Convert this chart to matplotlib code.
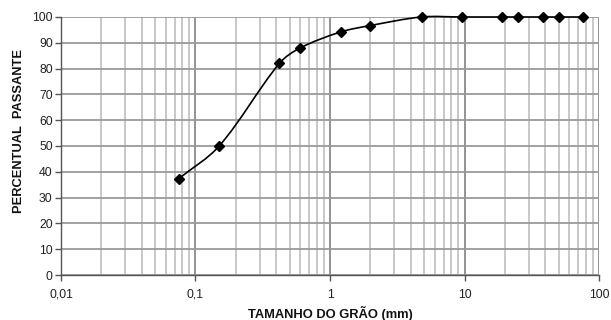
import numpy as np
import matplotlib
matplotlib.use('Agg')
import matplotlib.pyplot as plt
from matplotlib.path import Path
from matplotlib.patches import PathPatch
from matplotlib.ticker import FixedLocator, LogLocator, NullFormatter

plt.rcParams['font.family'] = ['Liberation Sans', 'DejaVu Sans']

# sieve openings (mm) and percent passing
sizes = [0.075, 0.15, 0.42, 0.6, 1.2, 2.0, 4.8, 9.5, 19, 25, 38, 50, 76]
passing = [37.3, 50.0, 82.0, 88.0, 94.2, 96.7, 100, 100, 100, 100, 100, 100, 100]

x_ticks = [0.01, 0.1, 1, 10, 100]
x_labels = ['0,01', '0,1', '1', '10', '100']
y_ticks = list(range(0, 101, 10))

fig = plt.figure(figsize=(6.11, 3.2), dpi=100)
ax = fig.add_axes([0.0998, 0.1406, 0.8806, 0.8063])
ax.set_xscale('log')
ax.set_xlim(0.01, 100)
ax.set_ylim(0, 100)

# grid
ax.xaxis.set_major_locator(FixedLocator(x_ticks))
ax.xaxis.set_minor_locator(LogLocator(base=10, subs=np.arange(2, 10)))
ax.xaxis.set_minor_formatter(NullFormatter())
ax.set_xticks(x_ticks)
ax.set_xticklabels(x_labels)
ax.set_yticks(y_ticks)
ax.grid(True, which='major', axis='x', color='#8a8a8a', lw=1.3)
ax.grid(True, which='minor', axis='x', color='#c4c4c4', lw=1.3)
ax.grid(True, which='major', axis='y', color='#9a9a9a', lw=1.3)
ax.set_axisbelow(True)

for s in ['top', 'right']:
    ax.spines[s].set_visible(False)
for s in ['left', 'bottom']:
    ax.spines[s].set_color('#555555')
    ax.spines[s].set_linewidth(1.0)

ax.tick_params(axis='both', which='major', direction='out', length=4,
               width=1, color='#555555', labelsize=8.8, pad=2,
               labelcolor='#222222')
ax.tick_params(axis='x', which='major', pad=6)
ax.tick_params(axis='x', which='minor', length=0)

# smoothed curve through the points (bezier in screen-like space, log x)
px_dec = 134.5   # approx pixels per decade
px_unit = 2.58   # approx pixels per percent
P = np.column_stack([np.log10(sizes) * px_dec, np.array(passing) * px_unit])
n = len(P)
tang = []
for i in range(n):
    d = P[min(i + 1, n - 1)] - P[max(i - 1, 0)]
    tang.append(d / np.hypot(*d))
verts = [P[0]]
codes = [Path.MOVETO]
for i in range(n - 1):
    seg = np.hypot(*(P[i + 1] - P[i]))
    c1 = P[i] + tang[i] * seg * 0.33
    c2 = P[i + 1] - tang[i + 1] * seg * 0.33
    verts += [c1, c2, P[i + 1]]
    codes += [Path.CURVE4] * 3
verts = [(10 ** (v[0] / px_dec), v[1] / px_unit) for v in verts]
curve = PathPatch(Path(verts, codes), facecolor='none', edgecolor='black',
                  lw=1.2, clip_on=False, zorder=3)
ax.add_patch(curve)

ax.plot(sizes, passing, linestyle='none', marker='D', ms=5.5, color='black',
        clip_on=False, zorder=4)

ax.set_xlabel('TAMANHO DO GRÃO (mm)', fontsize=9.3, fontweight='bold',
              labelpad=4, color='#111111')
ax.set_ylabel('PERCENTUAL  PASSANTE', fontsize=9.3, fontweight='bold',
              color='#111111')
ax.yaxis.set_label_coords(-0.066, 0.56)

fig.savefig('out.png', dpi=100)
